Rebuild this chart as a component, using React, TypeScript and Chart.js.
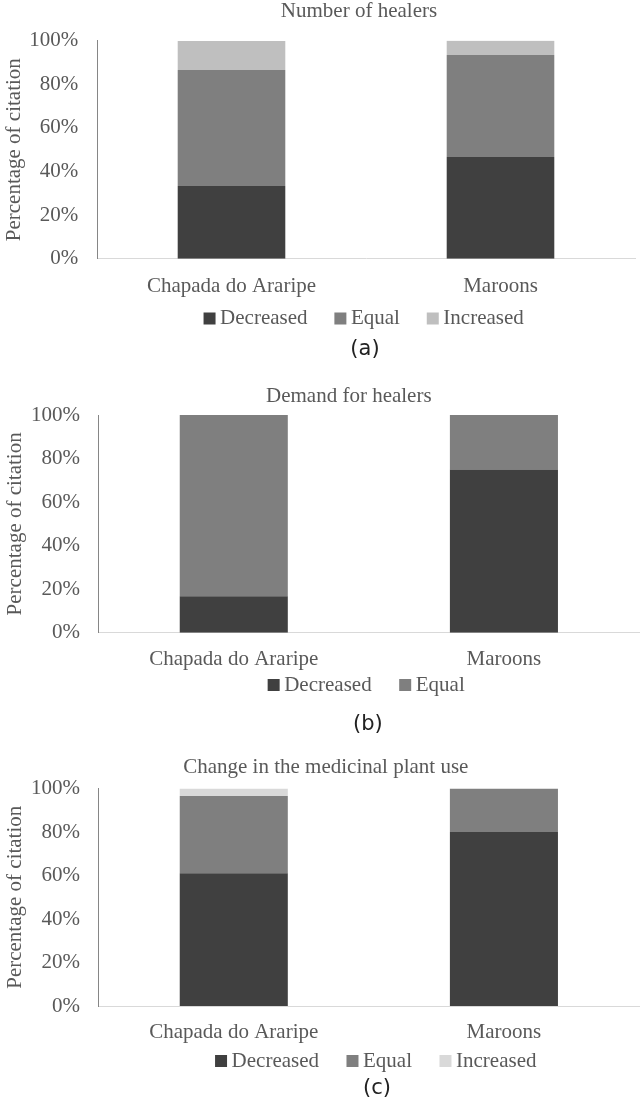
import React, { useEffect, useRef } from 'react';
import { Chart, registerables } from 'chart.js';

Chart.register(...registerables);

// ---- data ----
const categories = ['Chapada do Araripe', 'Maroons'];
const yTicks = [0, 20, 40, 60, 80, 100];
const seriesNames = ['Decreased', 'Equal', 'Increased'];

const healersDecreased = [33.3, 46.7];
const healersEqual = [53.3, 46.7];
const healersIncreased = [13.3, 6.7];

const demandDecreased = [16.7, 75];
const demandEqual = [83.3, 25];

const plantDecreased = [61, 80];
const plantEqual = [35.5, 20];
const plantIncreased = [3.5, 0];

const panelTitles = ['Number of healers', 'Demand for healers', 'Change in the medicinal plant use'];
const panelTags = ['(a)', '(b)', '(c)'];
const yAxisTitle = 'Percentage of citation';

// ---- style ----
const SERIF = '"Liberation Serif", "Times New Roman", serif';
const SANS = '"DejaVu Sans", sans-serif';
const TEXT = '#595959';
const C_DEC = '#404040';
const C_EQ = '#7f7f7f';
const W = 641;
const FONT_SIZE = 21;

type Layout = {
  height: number;
  left: number;
  right: number;
  top: number;
  bottom: number;
  titleX: number;
  titleY: number;
  legendX: number;
  legendY: number;
  legendPad: number;
  tagX: number;
  tagY: number;
  yTickPad: number;
  yTitleTop: number;
  xTickPad: number;
  xHeight: number;
};

type Panel = {
  title: string;
  tag: string;
  datasets: { label: string; data: number[]; color: string }[];
  layout: Layout;
};

const panels: Panel[] = [
  {
    title: panelTitles[0],
    tag: panelTags[0],
    datasets: [
      { label: seriesNames[0], data: healersDecreased, color: C_DEC },
      { label: seriesNames[1], data: healersEqual, color: C_EQ },
      { label: seriesNames[2], data: healersIncreased, color: '#bfbfbf' },
    ],
    layout: {
      height: 365, left: 97, right: 635, top: 40.7, bottom: 258.7,
      titleX: 359, titleY: 11.9, legendX: 209.5, legendY: 318.5, legendPad: 32.8,
      tagX: 365, tagY: 349.5, yTickPad: 18.7, yTitleTop: 1.5, xTickPad: 14.8, xHeight: 45,
    },
  },
  {
    title: panelTitles[1],
    tag: panelTags[1],
    datasets: [
      { label: seriesNames[0], data: demandDecreased, color: C_DEC },
      { label: seriesNames[1], data: demandEqual, color: C_EQ },
    ],
    layout: {
      height: 375, left: 98.7, right: 639, top: 50, bottom: 267.7,
      titleX: 348.8, titleY: 31.1, legendX: 273.6, legendY: 320.1, legendPad: 33.5,
      tagX: 367.8, tagY: 359.8, yTickPad: 18.7, yTitleTop: 2.6, xTickPad: 14.2, xHeight: 45,
    },
  },
  {
    title: panelTitles[2],
    tag: panelTags[2],
    datasets: [
      { label: seriesNames[0], data: plantDecreased, color: C_DEC },
      { label: seriesNames[1], data: plantEqual, color: C_EQ },
      { label: seriesNames[2], data: plantIncreased, color: '#d9d9d9' },
    ],
    layout: {
      height: 358, left: 98.7, right: 639, top: 48.5, bottom: 266,
      titleX: 325.8, titleY: 27.7, legendX: 221, legendY: 321.1, legendPad: 33.4,
      tagX: 377, tagY: 348.2, yTickPad: 18.7, yTitleTop: 2.6, xTickPad: 14.1, xHeight: 45,
    },
  },
];

// Moves the title, legend and panel tag to their places once Chart.js has laid the chart out.
const placeBoxes = {
  id: 'placeBoxes',
  afterLayout(chart: any, _args: any, opts: any) {
    if (!opts || !opts.title) return;
    const shift = (b: any, left: number, top: number) => {
      const w = b.right - b.left;
      const h = b.bottom - b.top;
      b.left = left;
      b.right = left + w;
      b.top = top;
      b.bottom = top + h;
    };
    const title = chart.titleBlock;
    if (title) {
      const w = title.right - title.left;
      shift(title, opts.title.x - w / 2, opts.title.y - (title._padding ? title._padding.top : 0) - FONT_SIZE / 2);
    }
    const sub = (chart.boxes || []).find(
      (b: any) => b !== title && b.options && b.options.text === opts.tag.text
    );
    if (sub) {
      const w = sub.right - sub.left;
      shift(sub, opts.tag.x - w / 2, opts.tag.y - (sub._padding ? sub._padding.top : 0) - FONT_SIZE / 2);
    }
    const legend = chart.legend;
    if (legend) {
      shift(legend, opts.legend.x - opts.legend.pad, opts.legend.y - opts.legend.pad - FONT_SIZE / 2);
    }
  },
};

function makeConfig(p: Panel): any {
  const L = p.layout;
  const font = { family: SERIF, size: FONT_SIZE, weight: 'normal' as const, lineHeight: 1.2 };
  const legendH = FONT_SIZE + L.legendPad + 10;
  const padBottom = L.height - L.bottom - L.xHeight - legendH - FONT_SIZE;
  return {
    type: 'bar',
    data: {
      labels: categories,
      datasets: p.datasets.map((d) => ({
        label: d.label,
        data: d.data,
        backgroundColor: d.color,
        borderWidth: 0,
        barPercentage: 0.4,
        categoryPercentage: 1,
      })),
    },
    plugins: [placeBoxes],
    options: {
      responsive: false,
      animation: false,
      devicePixelRatio: 1,
      layout: { padding: { left: 0, right: W - L.right, top: 0, bottom: padBottom } },
      plugins: {
        placeBoxes: {
          title: { x: L.titleX, y: L.titleY },
          tag: { x: L.tagX, y: L.tagY, text: p.tag },
          legend: { x: L.legendX, y: L.legendY, pad: L.legendPad },
        },
        title: {
          display: true,
          text: p.title,
          fullSize: true,
          color: TEXT,
          font: { family: SERIF, size: FONT_SIZE, weight: 'normal', lineHeight: 1 },
          padding: { top: 0, bottom: L.top - FONT_SIZE },
        },
        subtitle: {
          display: true,
          text: p.tag,
          position: 'bottom',
          fullSize: false,
          color: '#222222',
          font: { family: SANS, size: FONT_SIZE, weight: 'normal', lineHeight: 1 },
          padding: 0,
        },
        legend: {
          position: 'bottom',
          align: 'start',
          fullSize: false,
          labels: {
            usePointStyle: true,
            pointStyle: 'rect',
            boxWidth: 0.1,
            boxHeight: 12,
            padding: L.legendPad,
            color: TEXT,
            font: { family: SERIF, size: FONT_SIZE, weight: 'normal' },
          },
        },
        tooltip: { enabled: false },
      },
      scales: {
        x: {
          stacked: true,
          grid: { display: false, drawTicks: false, tickLength: 0 },
          border: { display: true, color: '#d9d9d9', width: 1 },
          ticks: { color: TEXT, font, padding: L.xTickPad, maxRotation: 0, autoSkip: false },
          afterFit: (s: any) => {
            s.height = L.xHeight;
          },
        },
        y: {
          stacked: true,
          min: 0,
          max: 100,
          grid: { display: false, drawTicks: false, tickLength: 0 },
          border: { display: true, color: '#868686', width: 1 },
          ticks: {
            color: TEXT,
            font,
            padding: L.yTickPad,
            callback: (v: any) => `${v}%`,
          },
          afterBuildTicks: (s: any) => {
            s.ticks = yTicks.map((v) => ({ value: v }));
          },
          title: {
            display: true,
            text: yAxisTitle,
            color: TEXT,
            font,
            padding: { top: L.yTitleTop, bottom: 0 },
          },
          afterFit: (s: any) => {
            s.width = L.left;
          },
        },
      },
    },
  };
}

function PanelChart({ panel }: { panel: Panel }) {
  const ref = useRef<HTMLCanvasElement | null>(null);
  useEffect(() => {
    if (!ref.current) return;
    const chart = new Chart(ref.current, makeConfig(panel));
    return () => chart.destroy();
  }, [panel]);
  return (
    <canvas
      ref={ref}
      width={W}
      height={panel.layout.height}
      style={{ display: 'block', width: W, height: panel.layout.height }}
    />
  );
}

export default function App() {
  return (
    <div style={{ position: 'absolute', top: 0, left: 0, width: W, height: 1098, background: '#ffffff' }}>
      {panels.map((p) => (
        <PanelChart key={p.tag} panel={p} />
      ))}
    </div>
  );
}
